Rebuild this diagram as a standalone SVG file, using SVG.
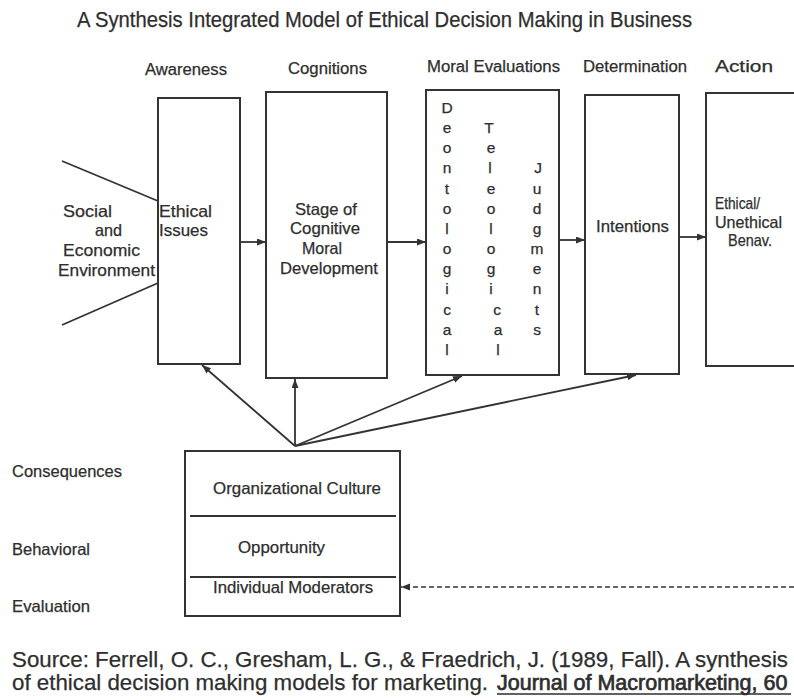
<svg xmlns="http://www.w3.org/2000/svg" width="794" height="700" viewBox="0 0 794 700">
  <style>
    text { font-family: "Liberation Sans", Arial, sans-serif; fill: #2e2e2e; stroke: #2e2e2e; stroke-width: 0.25; }
    .title { font-size: 21.5px; }
    .stage { font-size: 16px; }
    .lbl { font-size: 16.5px; }
    .col { font-size: 15.5px; text-anchor: middle; }
    .src { font-size: 22px; }
    .journal { font-size: 21.5px; stroke-width: 0.7; }
    .box { fill: #ffffff; stroke: #333333; stroke-width: 2; }
    .div { stroke: #333333; stroke-width: 1.8; }
    .link { fill: none; stroke: #333333; stroke-width: 1.8; }
    .dash { fill: none; stroke: #333333; stroke-width: 1.6; stroke-dasharray: 5 3; }
  </style>
  <defs>
    <marker id="arrow" markerUnits="userSpaceOnUse" markerWidth="10" markerHeight="8" refX="9" refY="3.5" orient="auto">
      <path d="M0,0 L9,3.5 L0,7 z" fill="#333333"/>
    </marker>
  </defs>
  <rect width="794" height="700" fill="#ffffff"/>

  <text class="title" x="77" y="27" textLength="615" lengthAdjust="spacingAndGlyphs">A Synthesis Integrated Model of Ethical Decision Making in Business</text>

  <!-- stage headings -->
  <g id="headings">
    <text class="stage" x="145" y="75" textLength="82" lengthAdjust="spacingAndGlyphs">Awareness</text>
    <text class="stage" x="288" y="74" textLength="79" lengthAdjust="spacingAndGlyphs">Cognitions</text>
    <text class="stage" x="427" y="72" textLength="133" lengthAdjust="spacingAndGlyphs">Moral Evaluations</text>
    <text class="stage" x="583" y="72" textLength="104" lengthAdjust="spacingAndGlyphs">Determination</text>
    <text class="stage" x="715" y="72" textLength="58" lengthAdjust="spacingAndGlyphs">Action</text>
  </g>

  <!-- environment input -->
  <g id="environment">
    <line class="link" x1="62" y1="161" x2="158" y2="201"/>
    <line class="link" x1="62" y1="325" x2="158" y2="283"/>
    <text class="lbl" x="63" y="217" textLength="49" lengthAdjust="spacingAndGlyphs">Social</text>
    <text class="lbl" x="95" y="236" textLength="27" lengthAdjust="spacingAndGlyphs">and</text>
    <text class="lbl" x="63" y="256" textLength="77" lengthAdjust="spacingAndGlyphs">Economic</text>
    <text class="lbl" x="58" y="276" textLength="97" lengthAdjust="spacingAndGlyphs">Environment</text>
  </g>

  <g id="ethical-issues">
    <rect class="box" x="158" y="98" width="82" height="266"/>
    <text class="lbl" x="159" y="217" textLength="53" lengthAdjust="spacingAndGlyphs">Ethical</text>
    <text class="lbl" x="159" y="236" textLength="49" lengthAdjust="spacingAndGlyphs">Issues</text>
  </g>

  <g id="cognitive-moral-development">
    <rect class="box" x="266" y="92" width="121" height="286"/>
    <text class="lbl" x="295" y="215" textLength="62" lengthAdjust="spacingAndGlyphs">Stage of</text>
    <text class="lbl" x="290" y="234" textLength="70" lengthAdjust="spacingAndGlyphs">Cognitive</text>
    <text class="lbl" x="302" y="254" textLength="40" lengthAdjust="spacingAndGlyphs">Moral</text>
    <text class="lbl" x="280" y="274" textLength="98" lengthAdjust="spacingAndGlyphs">Development</text>
  </g>

  <g id="moral-evaluations">
    <rect class="box" x="426" y="90" width="133" height="285"/>
    <text class="col" x="447">
      <tspan x="447" y="113">D</tspan><tspan x="447" y="133">e</tspan><tspan x="447" y="153">o</tspan><tspan x="447" y="173">n</tspan><tspan x="447" y="194">t</tspan><tspan x="447" y="214">o</tspan><tspan x="447" y="234">l</tspan><tspan x="447" y="254">o</tspan><tspan x="447" y="274">g</tspan><tspan x="447" y="294">i</tspan><tspan x="447" y="315">c</tspan><tspan x="447" y="335">a</tspan><tspan x="447" y="355">l</tspan>
    </text>
    <text class="col" x="490">
      <tspan x="489" y="133">T</tspan><tspan x="491" y="153">e</tspan><tspan x="490" y="173">l</tspan><tspan x="491" y="194">e</tspan><tspan x="491" y="214">o</tspan><tspan x="491" y="234">l</tspan><tspan x="491" y="254">o</tspan><tspan x="491" y="274">g</tspan><tspan x="491" y="294">i</tspan><tspan x="497" y="315">c</tspan><tspan x="498" y="335">a</tspan><tspan x="498" y="355">l</tspan>
    </text>
    <text class="col" x="537">
      <tspan x="538" y="173">J</tspan><tspan x="537" y="194">u</tspan><tspan x="537" y="214">d</tspan><tspan x="537" y="234">g</tspan><tspan x="537" y="254">m</tspan><tspan x="537" y="274">e</tspan><tspan x="537" y="294">n</tspan><tspan x="537" y="315">t</tspan><tspan x="537" y="335">s</tspan>
    </text>
  </g>

  <g id="intentions">
    <rect class="box" x="585" y="95" width="94" height="279"/>
    <text class="lbl" x="596" y="232" textLength="73" lengthAdjust="spacingAndGlyphs">Intentions</text>
  </g>

  <g id="behaviour">
    <rect class="box" x="706" y="93" width="100" height="273"/>
    <text class="lbl" x="715" y="209" textLength="45" lengthAdjust="spacingAndGlyphs">Ethical/</text>
    <text class="lbl" x="715" y="228" textLength="67" lengthAdjust="spacingAndGlyphs">Unethical</text>
    <text class="lbl" x="728" y="246" textLength="44" lengthAdjust="spacingAndGlyphs">Benav.</text>
  </g>

  <g id="moderators">
    <rect class="box" x="185" y="451" width="215" height="165"/>
    <line class="div" x1="190" y1="516" x2="396" y2="516"/>
    <line class="div" x1="190" y1="577" x2="396" y2="577"/>
    <text class="lbl" x="213" y="494" textLength="168" lengthAdjust="spacingAndGlyphs">Organizational Culture</text>
    <text class="lbl" x="238" y="553" textLength="87" lengthAdjust="spacingAndGlyphs">Opportunity</text>
    <text class="lbl" x="213" y="593" textLength="160" lengthAdjust="spacingAndGlyphs">Individual Moderators</text>
  </g>

  <g id="evaluation-labels">
    <text class="lbl" x="12" y="477" textLength="110" lengthAdjust="spacingAndGlyphs">Consequences</text>
    <text class="lbl" x="12" y="555" textLength="78" lengthAdjust="spacingAndGlyphs">Behavioral</text>
    <text class="lbl" x="12" y="612" textLength="78" lengthAdjust="spacingAndGlyphs">Evaluation</text>
  </g>

  <!-- connectors -->
  <g id="connectors">
    <line class="link" x1="240" y1="242" x2="266" y2="242" marker-end="url(#arrow)"/>
    <line class="link" x1="387" y1="242" x2="426" y2="242" marker-end="url(#arrow)"/>
    <line class="link" x1="559" y1="240" x2="585" y2="240" marker-end="url(#arrow)"/>
    <line class="link" x1="679" y1="237" x2="706" y2="237" marker-end="url(#arrow)"/>
    <line class="link" x1="295" y1="446" x2="202" y2="365" marker-end="url(#arrow)"/>
    <line class="link" x1="295" y1="446" x2="295" y2="379" marker-end="url(#arrow)"/>
    <line class="link" x1="295" y1="446" x2="462" y2="376" marker-end="url(#arrow)"/>
    <line class="link" x1="295" y1="446" x2="636" y2="375" marker-end="url(#arrow)"/>
    <line class="dash" x1="794" y1="587" x2="401" y2="587" marker-end="url(#arrow)"/>
  </g>

  <!-- citation -->
  <g id="source">
    <text class="src" x="12" y="667" textLength="776" lengthAdjust="spacingAndGlyphs">Source: Ferrell, O. C., Gresham, L. G., &amp; Fraedrich, J. (1989, Fall). A synthesis</text>
    <text class="src" x="12" y="690" textLength="476" lengthAdjust="spacingAndGlyphs">of ethical decision making models for marketing.</text>
    <text class="src journal" x="497" y="690">Journal of Macromarketing, 60</text>
    <line x1="497" y1="694" x2="791" y2="694" stroke="#2e2e2e" stroke-width="1.6"/>
  </g>
</svg>
